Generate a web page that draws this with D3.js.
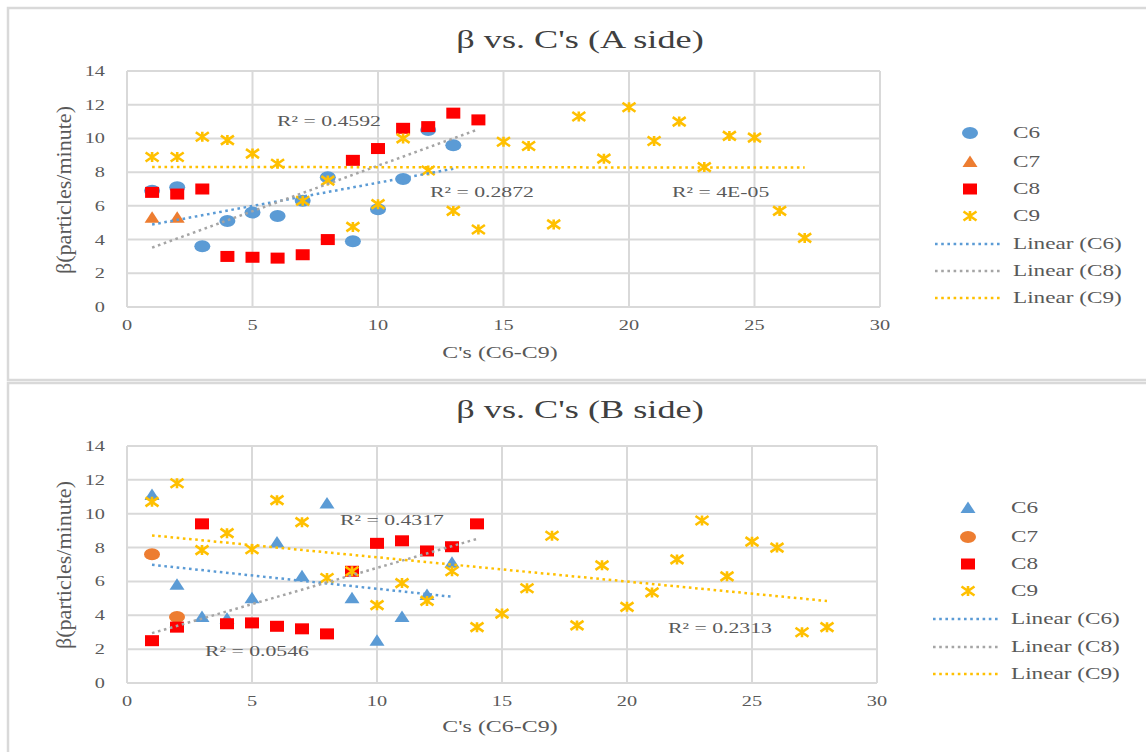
<!DOCTYPE html>
<html>
<head>
<meta charset="utf-8">
<script src="https://cdn.jsdelivr.net/npm/d3@7"></script>
<style>
  body { margin: 0; background: #fff; }
  svg { display: block; font-family: "Liberation Serif", "DejaVu Serif", serif; }
</style>
</head>
<body>
<svg id="chart" width="1146" height="752"></svg>
<script>
const W = 1146, H = 752;
const sx = 1.45; // the picture is stretched sideways, so is the text

const xTicks = [0, 5, 10, 15, 20, 25, 30];
const yTicks = [0, 2, 4, 6, 8, 10, 12, 14];

// A side: [C's, beta]
const aC6 = [[1,6.9],[2,7.1],[3,3.6],[4,5.1],[5,5.6],[6,5.4],[7,6.3],[8,7.7],[9,3.9],[10,5.8],[11,7.6],[12,10.5],[13,9.6]];
const aC7 = [[1,5.3],[2,5.3]];
const aC8 = [[1,6.8],[2,6.7],[3,7.0],[4,3.0],[5,2.95],[6,2.9],[7,3.1],[8,4.0],[9,8.7],[10,9.4],[11,10.6],[12,10.7],[13,11.5],[14,11.1]];
const aC9 = [[1,8.9],[2,8.9],[3,10.1],[4,9.9],[5,9.1],[6,8.5],[7,6.3],[8,7.5],[9,4.75],[10,6.1],[11,10.0],[12,8.1],[13,5.7],[14,4.6],
             [15,9.8],[16,9.55],[17,4.9],[18,11.3],[19,8.8],[20,11.85],[21,9.85],[22,11.0],[23,8.3],[24,10.15],[25,10.05],[26,5.7],[27,4.1]];
const aR2 = ["R² = 0.4592", "R² = 0.2872", "R² = 4E-05"];

// B side
const bC6 = [[1,11.1],[2,5.8],[3,3.9],[4,3.8],[5,5.0],[6,8.3],[7,6.3],[8,10.6],[9,5.0],[10,2.5],[11,3.9],[12,5.2],[13,7.1]];
const bC7 = [[1,7.6],[2,3.9]];
const bC8 = [[1,2.5],[2,3.3],[3,9.4],[4,3.5],[5,3.55],[6,3.35],[7,3.2],[8,2.9],[9,6.6],[10,8.25],[11,8.4],[12,7.8],[13,8.05],[14,9.4]];
const bC9 = [[1,10.7],[2,11.8],[3,7.85],[4,8.85],[5,7.9],[6,10.8],[7,9.5],[8,6.2],[9,6.6],[10,4.6],[11,5.9],[12,4.85],[13,6.6],[14,3.3],
             [15,4.1],[16,5.6],[17,8.7],[18,3.4],[19,6.95],[20,4.5],[21,5.35],[22,7.3],[23,9.6],[24,6.3],[25,8.35],[26,8.0],[27,3.0],[28,3.3]];
const bR2 = ["R² = 0.4317", "R² = 0.0546", "R² = 0.2313"];

const colors = { blue: '#5B9BD5', orange: '#ED7D31', red: '#FF0000', yellow: '#FFC000', gray: '#A5A5A5' };

const svg = d3.select('#chart');

function label(g, x, y, txt, size, anchor, fill) {
    return g.append('text')
        .attr('transform', `translate(${x},${y}) scale(${sx},1)`)
        .attr('text-anchor', anchor)
        .style('font-size', size + 'px')
        .attr('fill', fill || '#595959')
        .text(txt);
}

function marker(g, shape, color) {
    if (shape === 'circle') {
        g.append('ellipse').attr('rx', 8).attr('ry', 6).attr('fill', color);
    } else if (shape === 'triangle') {
        g.append('path').attr('d', 'M0,-6.5L7.5,5L-7.5,5Z').attr('fill', color);
    } else if (shape === 'square') {
        g.append('rect').attr('x', -7).attr('y', -5.5).attr('width', 14).attr('height', 11).attr('fill', color);
    } else {
        g.append('path').attr('d', 'M-6.5,-4.5L6.5,4.5M-6.5,4.5L6.5,-4.5M0,-5L0,5')
            .attr('stroke', color).attr('stroke-width', 2.6).attr('fill', 'none');
    }
}

// least squares line over the range of the series, like the Excel trendline
function fit(data) {
    const mx = d3.mean(data, d => d[0]), my = d3.mean(data, d => d[1]);
    const b = d3.sum(data, d => (d[0] - mx) * (d[1] - my)) / d3.sum(data, d => (d[0] - mx) ** 2);
    const [x0, x1] = d3.extent(data, d => d[0]);
    return [[x0, my + b * (x0 - mx)], [x1, my + b * (x1 - mx)]];
}

function drawChart(cfg) {
    const g = svg.append('g');

    // frame
    g.append('rect').attr('x', 8).attr('y', cfg.frameTop).attr('width', W).attr('height', cfg.frameH)
        .attr('fill', '#fff').attr('stroke', '#D9D9D9').attr('stroke-width', 2.5);

    const x = d3.scaleLinear().domain([0, 30]).range(cfg.xr);
    const y = d3.scaleLinear().domain([0, 14]).range(cfg.yr);

    // grid
    g.append('g').selectAll('line.v').data(xTicks).join('line')
        .attr('x1', d => x(d)).attr('x2', d => x(d)).attr('y1', y(0)).attr('y2', y(14))
        .attr('stroke', '#D9D9D9').attr('stroke-width', 2);
    g.append('g').selectAll('line.h').data(yTicks).join('line')
        .attr('x1', x(0)).attr('x2', x(30)).attr('y1', d => y(d)).attr('y2', d => y(d))
        .attr('stroke', '#D9D9D9').attr('stroke-width', 2);

    // tick labels
    yTicks.forEach(t => label(g, 105, y(t) + 5, t, 14, 'end'));
    xTicks.forEach(t => label(g, x(t), cfg.xLabelY, t, 14, 'middle'));

    // titles
    label(g, 580, cfg.titleY, cfg.title, 25, 'middle', '#404040');
    label(g, 500, cfg.xTitleY, "C's (C6-C9)", 16.5, 'middle');
    g.append('text')
        .attr('transform', `translate(71,${cfg.yTitleY}) rotate(-90) scale(1,1.4)`)
        .attr('text-anchor', 'middle')
        .style('font-size', '15px')
        .attr('fill', '#595959')
        .attr('textLength', 168).attr('lengthAdjust', 'spacingAndGlyphs')
        .text('β(particles/minute)');

    // points
    cfg.series.forEach(s => {
        s.data.forEach(d => {
            const m = g.append('g').attr('transform', `translate(${x(d[0])},${y(d[1])})`);
            marker(m, s.shape, s.color);
        });
    });

    // trend lines
    const line = d3.line().x(d => x(d[0])).y(d => y(d[1]));
    cfg.trends.forEach(t => {
        g.append('path').attr('d', line(fit(t.data)))
            .attr('stroke', t.color).attr('stroke-width', 2.5).attr('stroke-dasharray', '2.6,3.6').attr('fill', 'none');
    });

    // R² labels
    cfg.r2.forEach((txt, i) => label(g, cfg.r2pos[i][0], cfg.r2pos[i][1], txt, 15, 'start'));

    // legend
    const rows = cfg.series.map(s => ({ name: s.name, shape: s.shape, color: s.color }))
        .concat(cfg.trends.map(t => ({ name: 'Linear (' + t.name + ')', color: t.color })));
    rows.forEach((r, i) => {
        const ry = cfg.legendY[i];
        if (r.shape) {
            const m = g.append('g').attr('transform', `translate(${cfg.legendX},${ry})`);
            marker(m, r.shape, r.color);
        } else {
            g.append('line').attr('x1', cfg.legendX - 35).attr('x2', cfg.legendX + 31).attr('y1', ry).attr('y2', ry)
                .attr('stroke', r.color).attr('stroke-width', 2.5).attr('stroke-dasharray', '2.6,3.6');
        }
        label(g, cfg.legendX + 43, ry + 5, r.name, 16, 'start');
    });
}

drawChart({
    title: 'β vs. C\'s (A side)',
    frameTop: 8, frameH: 372,
    xr: [127, 880], yr: [307, 71],
    xLabelY: 330, xTitleY: 358, titleY: 48, yTitleY: 190,
    series: [
        { name: 'C6', data: aC6, shape: 'circle', color: colors.blue },
        { name: 'C7', data: aC7, shape: 'triangle', color: colors.orange },
        { name: 'C8', data: aC8, shape: 'square', color: colors.red },
        { name: 'C9', data: aC9, shape: 'star', color: colors.yellow }
    ],
    trends: [
        { name: 'C6', data: aC6, color: colors.blue },
        { name: 'C8', data: aC8, color: colors.gray },
        { name: 'C9', data: aC9, color: colors.yellow }
    ],
    r2: aR2, r2pos: [[277, 126], [430, 197], [672, 197]],
    legendX: 970, legendY: [133, 162, 189, 216, 244, 271, 298]
});

drawChart({
    title: 'β vs. C\'s (B side)',
    frameTop: 383, frameH: 380,
    xr: [127, 877], yr: [683, 446],
    xLabelY: 706, xTitleY: 732, titleY: 418, yTitleY: 565,
    series: [
        { name: 'C6', data: bC6, shape: 'triangle', color: colors.blue },
        { name: 'C7', data: bC7, shape: 'circle', color: colors.orange },
        { name: 'C8', data: bC8, shape: 'square', color: colors.red },
        { name: 'C9', data: bC9, shape: 'star', color: colors.yellow }
    ],
    trends: [
        { name: 'C6', data: bC6, color: colors.blue },
        { name: 'C8', data: bC8, color: colors.gray },
        { name: 'C9', data: bC9, color: colors.yellow }
    ],
    r2: bR2, r2pos: [[340, 525], [205, 656], [668, 633]],
    legendX: 968, legendY: [508, 537, 564, 591, 619, 647, 674]
});
</script>
</body>
</html>
